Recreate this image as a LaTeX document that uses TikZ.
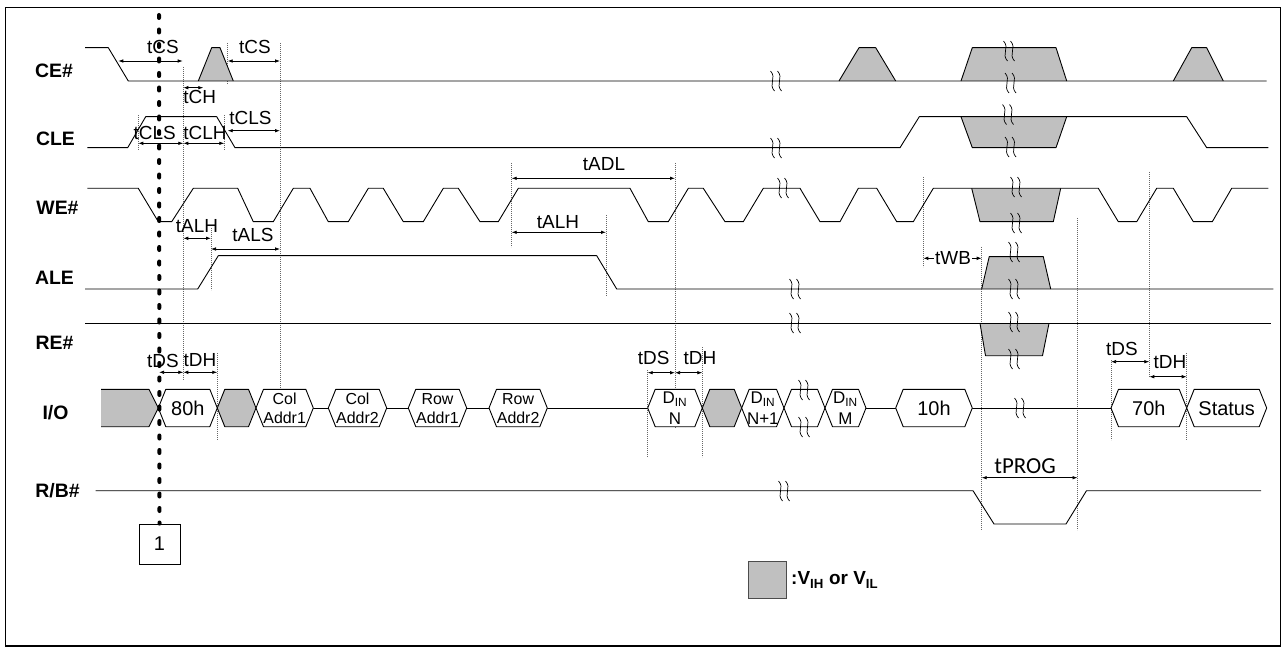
\documentclass[tikz,border=0pt]{standalone}
\usepackage{fontspec}
\setmainfont{Liberation Sans}
\newfontfamily\carl{Carlito}
\usetikzlibrary{arrows.meta}
\definecolor{gfill}{RGB}{192,192,192}
\newcommand\brkm[2]{%
  \draw[brk] (#1-5.5,#2-10) .. controls (#1+1,#2-3) and (#1-8,#2+3) .. (#1-1.5,#2+10);
  \draw[brk] (#1+1.5,#2-10) .. controls (#1+8,#2-3) and (#1-1,#2+3) .. (#1+5.5,#2+10);}
\newcommand\hexa[5]{%
  \filldraw[sig,fill=#3] (#1,408) -- (#1+7.5,389.3) -- (#2-7.5,389.3) -- (#2,408) -- (#2-7.5,426.7) -- (#1+7.5,426.7) -- cycle;
  \node[#4] (#5) at ({(#1+#2)/2},408.5) {\csname hxtext#5\endcsname};}
\begin{document}
\begin{tikzpicture}[x=1bp,y=-1bp,
  sig/.style={line width=0.9bp,line join=round},
  vl/.style={line width=0.6bp,black!60,dash pattern=on 1bp off 1bp},
  dim/.style={line width=0.75bp,{Latex[length=5bp,width=3.6bp]}-{Latex[length=5bp,width=3.6bp]}},
  tl/.style={inner sep=0,font=\fontsize{19}{22}\selectfont},
  sn/.style={inner sep=0,font=\bfseries\fontsize{19.5}{22}\selectfont},
  hx/.style={inner sep=0,font=\fontsize{20}{22}\selectfont},
  hxb/.style={inner sep=0},
  hx2/.style={inner sep=0,align=center,font=\fontsize{16}{18.5}\selectfont},
  hx3/.style={inner sep=0,align=center,font=\fontsize{17}{21}\selectfont},
  brk/.style={line width=0.7bp}]
\useasboundingbox (0,0) rectangle (1285,648);
\draw[line width=1.5bp] (5.5,7.3) rectangle (1280.5,646);

% signal names
\node[sn] (lce) at (54,71) {CE\#};
\node[sn] (lcle) at (55.5,139) {CLE};
\node[sn] (lwe) at (57.5,208) {WE\#};
\node[sn] (lale) at (54.5,278) {ALE};
\node[sn] (lre) at (54.5,343) {RE\#};
\node[sn] (lio) at (55.5,412.5) {I/O};
\node[sn] (lrb) at (57.5,491) {R/B\#};

% dotted verticals
\foreach \x/\a/\b in {183.3/67/380, 227.7/43/84, 138.3/115/150, 224.3/115/150, 280/43/390,
  211/228/290, 217.3/353/440, 511.7/163/247, 675/163/428, 606/215/296, 647.7/370/457,
  702.3/347/457, 923.3/177/267, 981.7/247/530, 1077.5/218/530, 1149.3/172/377,
  1111/360/440, 1186.7/353/440}
  \draw[vl] (\x,\a) -- (\x,\b);

% CE#
\filldraw[sig,fill=gfill] (198.3,81) -- (211.7,47.7) -- (220,47.7) -- (233.3,81);
\filldraw[sig,fill=gfill] (839,81) -- (859,47.7) -- (875.7,47.7) -- (895.7,81);
\filldraw[sig,fill=gfill] (961,81) -- (972.3,47.7) -- (1056,47.7) -- (1066.7,81);
\filldraw[sig,fill=gfill] (1173.3,81) -- (1191.7,47.7) -- (1206.7,47.7) -- (1223.3,81);
\draw[sig] (85,47.7) -- (108.3,47.7) -- (128.3,81) -- (1266.7,81);

% CLE
\filldraw[sig,fill=gfill] (961,116.7) -- (972.3,147.7) -- (1056,147.7) -- (1066.7,116.7);
\draw[sig] (87.3,147.7) -- (127.7,147.7) -- (145.7,116.7) -- (216.7,116.7) -- (235,147.7)
  -- (900,147.7) -- (919.3,116.7) -- (1186.7,116.7) -- (1206.7,147.7) -- (1268.3,147.7);

% WE#
\filldraw[sig,fill=gfill] (971.7,188.3) -- (980,221.7) -- (1053.3,221.7) -- (1060.7,188.3);
\draw[sig] (87.3,188.3) -- (138.3,188.3) -- (158.3,221.7) -- (171.7,221.7) -- (193.3,188.3)
  -- (237.7,188.3) -- (253.3,221.7) -- (273.3,221.7) -- (293.3,188.3) -- (310,188.3)
  -- (328.3,221.7) -- (348.3,221.7) -- (368.3,188.3) -- (383.3,188.3) -- (403.3,221.7)
  -- (423.3,221.7) -- (443.3,188.3) -- (458.3,188.3) -- (480,221.7) -- (498.3,221.7)
  -- (518.3,188.3) -- (630,188.3) -- (648.3,221.7) -- (668.3,221.7) -- (688.3,188.3)
  -- (703.3,188.3) -- (725,221.7) -- (743.3,221.7) -- (763.3,188.3) -- (800,188.3)
  -- (820,221.7) -- (840,221.7) -- (858.3,188.3) -- (876.7,188.3) -- (896.7,221.7)
  -- (913.3,221.7) -- (933.3,188.3) -- (1098.3,188.3) -- (1118.3,221.7) -- (1136.7,221.7)
  -- (1156.7,188.3) -- (1173.3,188.3) -- (1193.3,221.7) -- (1212.3,221.7) -- (1231.7,188.3)
  -- (1268.3,188.3);

% ALE
\filldraw[sig,fill=gfill] (981.7,289) -- (989.2,256.7) -- (1043.3,256.7) -- (1050.7,289);
\draw[sig] (85,289) -- (197.7,289) -- (218.3,255.7) -- (596.7,255.7) -- (616.7,289) -- (1273.3,289);

% RE#
\filldraw[sig,fill=gfill] (980,323.3) -- (985.5,355.7) -- (1042.5,355.7) -- (1049,323.3);
\draw[sig] (85,323.3) -- (1271,323.3);

% I/O
\filldraw[sig,fill=gfill] (101,389.3) -- (149,389.3) -- (158.3,408) -- (149,426.7) -- (101,426.7);
\foreach \a/\b in {313.3/328.3, 386.7/408.3, 466.7/489, 547.3/647.7, 866/895.7, 972.3/1111}
  \draw[sig] (\a,408) -- (\b,408);
\def\hxtexthA{80h}
\def\hxtexthB{}
\def\hxtexthC{Col\\Addr1}
\def\hxtexthD{Col\\Addr2}
\def\hxtexthE{Row\\Addr1}
\def\hxtexthF{Row\\Addr2}
\def\hxtexthG{D\textsubscript{IN}\\N}
\def\hxtexthH{}
\def\hxtexthI{D\textsubscript{IN}\\N+1}
\def\hxtexthJ{}
\def\hxtexthK{D\textsubscript{IN}\\M}
\def\hxtexthL{10h}
\def\hxtexthM{70h}
\def\hxtexthN{Status}
\hexa{158.3}{217.3}{white}{hx}{hA}
\hexa{217.3}{256}{gfill}{hxb}{hB}
\hexa{256}{313.3}{white}{hx2}{hC}
\hexa{328.3}{386.7}{white}{hx2}{hD}
\hexa{408.3}{466.7}{white}{hx2}{hE}
\hexa{489}{547.3}{white}{hx2}{hF}
\hexa{647.7}{702.3}{white}{hx3}{hG}
\hexa{702.3}{741.7}{gfill}{hxb}{hH}
\hexa{741.7}{784}{white}{hx3}{hI}
\hexa{784}{825}{white}{hxb}{hJ}
\hexa{825}{866}{white}{hx3}{hK}
\hexa{895.7}{972.3}{white}{hx}{hL}
\hexa{1111}{1186.7}{white}{hx}{hM}
\hexa{1186.7}{1266.7}{white}{hx}{hN}

% R/B#
\draw[sig] (95.7,490.7) -- (973,490.7) -- (994,524) -- (1066,524) -- (1086.5,490.7) -- (1261,490.7);

% break marks
\brkm{776}{81} \brkm{776}{148} \brkm{783}{188} \brkm{795}{289} \brkm{795}{323}
\brkm{1020}{408} \brkm{784}{491}
\brkm{1009}{51} \brkm{1010.5}{83} \brkm{1008}{114.5} \brkm{1010.5}{147}
\brkm{1016}{187} \brkm{1016}{223} \brkm{1014}{252} \brkm{1014}{289}
\brkm{1014}{322} \brkm{1014}{359} \brkm{804}{390} \brkm{804}{427}

% dimension arrows
\draw[dim] (118.3,61) -- (182.7,61);   \node[tl] (tcs1) at (163,47) {tCS};
\draw[dim] (227.7,61) -- (280,61);     \node[tl] (tcs2) at (255,47) {tCS};
\draw[dim] (183.3,87.7) -- (203.3,87.7); \node[tl] (tch) at (199.7,96.7) {tCH};
\draw[dim] (138.3,143.3) -- (183.3,143.3); \node[tl] (tcls1) at (154.7,132.7) {tCLS};
\draw[dim] (183.3,143.3) -- (224.3,143.3); \node[tl] (tclh) at (205,132.7) {tCLH};
\draw[dim] (227.7,130.7) -- (280,130.7); \node[tl] (tcls2) at (250.5,118.3) {tCLS};
\draw[dim] (511.7,178.3) -- (675,178.3); \node[tl] (tadl) at (604,164) {tADL};
\draw[dim] (183.3,238.3) -- (211,238.3); \node[tl] (talh1) at (197,226) {tALH};
\draw[dim] (211,249) -- (280,249);     \node[tl] (tals) at (253,235) {tALS};
\draw[dim] (511.7,232.3) -- (606,232.3); \node[tl] (talh2) at (558,222) {tALH};
\draw[dim] (923.3,258.3) -- (981.7,258.3); \node[tl,fill=white,inner xsep=1bp] (twb) at (953,258) {tWB};
\draw[dim] (159,372.3) -- (183.3,372.3); \node[tl] (tds1) at (163,360.5) {tDS};
\draw[dim] (183.3,372.3) -- (217.3,372.3); \node[tl] (tdh1) at (200,360.5) {tDH};
\draw[dim] (647.7,372.7) -- (675,372.7); \node[tl] (tds2) at (653.7,358.3) {tDS};
\draw[dim] (675,372.7) -- (702.3,372.7); \node[tl] (tdh2) at (700,358.3) {tDH};
\draw[dim] (1111,361.7) -- (1149.3,361.7); \node[tl] (tds3) at (1122,349) {tDS};
\draw[dim] (1149.3,376.7) -- (1186.7,376.7); \node[tl] (tdh3) at (1170,361.7) {tDH};
\draw[dim] (981.7,477.7) -- (1077.5,477.7); \node[inner sep=0,font=\carl\fontsize{23}{25}\selectfont] (tprog) at (1025,466) {tPROG};

% marker 1
\node[draw,line width=0.8bp,minimum width=41bp,minimum height=40bp,inner sep=0,font=\fontsize{20}{22}\selectfont] (box1) at (159.5,544) {1};
\coordinate (mtop) at (159,15);
\draw[line width=4bp,line cap=round,dash pattern=on 3bp off 11.5bp] (mtop) -- (box1.north);

% legend
\node[draw=black!70,fill=gfill,line width=0.9bp,minimum width=38bp,minimum height=37bp,inner sep=0] (leg) at (767,579.5) {};
\node[anchor=west,inner sep=0,font=\bfseries\fontsize{19}{22}\selectfont] (legt) at (791,580) {:V\textsubscript{IH} or V\textsubscript{IL}};
\end{tikzpicture}
\end{document}
